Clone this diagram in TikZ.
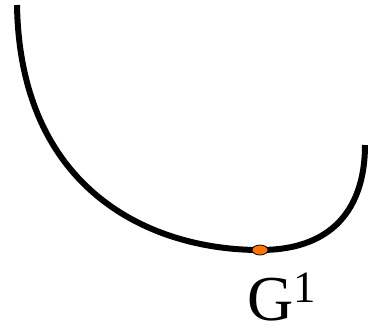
\documentclass[tikz,border=0pt]{standalone}
\usepackage{fontspec}
\setmainfont{Liberation Serif}
\usetikzlibrary{positioning, shapes.geometric}

\tikzset{
    curveline/.style={line width=3pt, line cap=butt},
    pointdot/.style={ellipse, draw=black, line width=0.4pt, fill=orange!90!red, minimum width=8pt, minimum height=5pt, inner sep=0pt},
}

\begin{document}
\begin{tikzpicture}[x=0.5pt, y=-0.5pt]
    \useasboundingbox (0,0) rectangle (368,328);

    % the curve
    \coordinate (start) at (17,5);
    \coordinate (low) at (260,250);
    \coordinate (finish) at (365,145);
    \draw[curveline] (start) .. controls (20,190) and (150,250) .. (low)
        .. controls (340,250) and (365,200) .. (finish);

    % the marked point and its label
    \node[pointdot] (g) at (low) {};
    \node[font=\fontsize{32}{36}\selectfont, below=5pt of g, xshift=11pt] (glabel) {G\textsuperscript{1}};

\end{tikzpicture}
\end{document}
